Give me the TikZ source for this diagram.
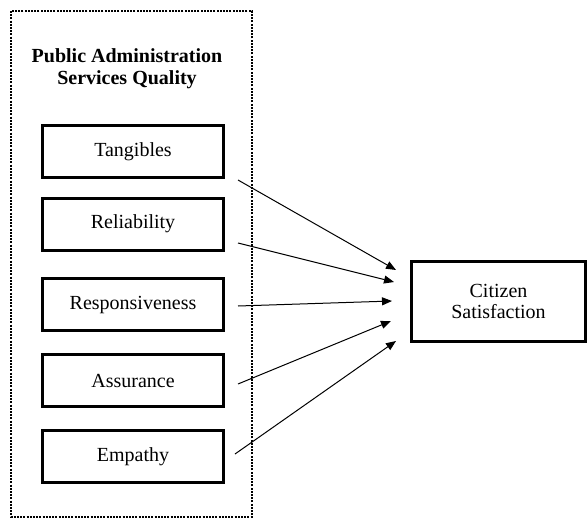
\documentclass[tikz,border=0pt]{standalone}
\usepackage{fontspec}
\setmainfont{Liberation Serif}
\usetikzlibrary{positioning,arrows.meta}

\begin{document}
\begin{tikzpicture}[
  >={Triangle[length=5pt,width=4pt]},
  dimension/.style={draw,line width=1.5pt,minimum width=90.5pt,minimum height=26pt,
    font=\fontsize{10}{10.5}\selectfont},
  outcome/.style={draw,line width=1.5pt,minimum width=87pt,minimum height=40pt,
    align=center,font=\fontsize{10}{10.5}\selectfont},
  group frame/.style={line width=1pt,dash pattern=on 1pt off 0.6pt},
  path link/.style={line width=0.5pt}
]
  \useasboundingbox (0,0) rectangle (294pt,-260pt);

  % Dotted frame around the five service quality dimensions
  \draw[group frame] (5.5pt,-5.5pt) rectangle (126pt,-258.5pt);
  \node[align=center,font=\fontsize{10}{11}\selectfont\bfseries] (title)
    at (63.5pt,-34.5pt) {Public Administration\\Services Quality};

  \node[dimension] (tang) at (66.5pt,-75.75pt) {Tangibles};
  \node[dimension,below=8.75pt of tang] (rel) {Reliability};
  \node[dimension,below=12.75pt of rel] (resp) {Responsiveness};
  \node[dimension,below=10.5pt of resp] (assu) {Assurance};
  \node[dimension,below=10.5pt of assu] (emp) {Empathy};

  % Dependent variable
  \node[outcome,right=92.5pt of resp,yshift=1.5pt] (cit) {Citizen\\Satisfaction};

  \path[->,path link]
    ([shift={(6.5pt,-0.5pt)}]tang.south east) edge ([shift={(-7pt,15.75pt)}]cit.west)
    ([shift={(6.5pt,-9.5pt)}]rel.east) edge ([shift={(-8pt,9.75pt)}]cit.west)
    ([shift={(6.5pt,-0.75pt)}]resp.east) edge ([shift={(-9pt,0.25pt)}]cit.west)
    ([shift={(6.5pt,-1.75pt)}]assu.east) edge ([shift={(-9.5pt,-9.75pt)}]cit.west)
    ([shift={(5pt,1.25pt)}]emp.east) edge ([shift={(-7pt,-19.75pt)}]cit.west);
\end{tikzpicture}
\end{document}
